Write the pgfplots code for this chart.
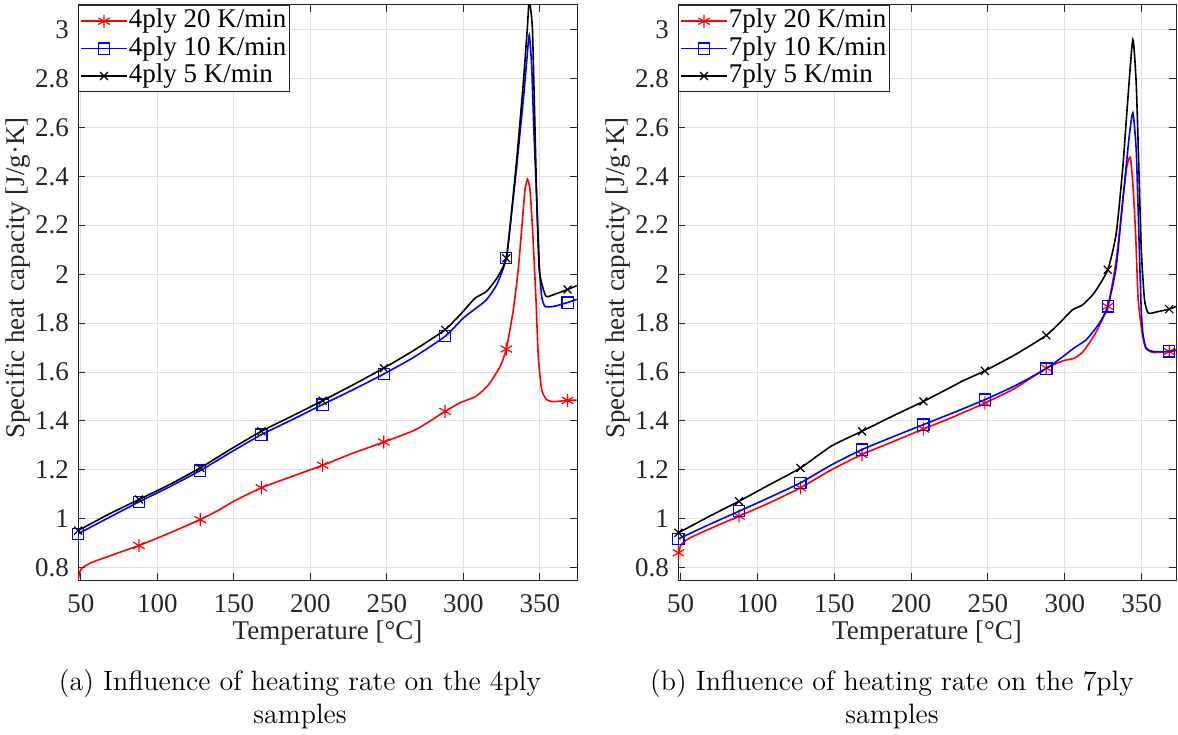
\documentclass[border=0pt]{standalone}
\usepackage{fontspec}
\usepackage{pgfplots}
\pgfplotsset{compat=1.18}
\newfontfamily\tnr{Liberation Serif}
\newcommand{\lblfont}{\tnr\fontsize{13.5}{14}\selectfont}
\pgfplotsset{myax/.style={
  scale only axis, width=249.5pt, height=287.5pt,
  xmin=48.2, xmax=374.2, ymin=0.75, ymax=3.1,
  xtick={50,100,150,200,250,300,350},
  ytick={0.8,1,1.2,1.4,1.6,1.8,2,2.2,2.4,2.6,2.8,3},
  grid=major, major grid style={black!12, line width=0.5pt},
  tick align=inside, major tick length=3.5pt,
  axis line style={black!85, line width=0.5pt},
  tick style={black!85, line width=0.5pt},
  ticklabel style={font=\lblfont, text=black!85},
  xticklabel style={yshift=-3.5pt},
  yticklabel style={xshift=-1pt},
  /pgf/number format/assume math mode=true,
  xlabel={Temperature [°C]}, ylabel={Specific heat capacity [J/g·K]},
  label style={font=\lblfont, text=black!85},
  xlabel style={at={(axis description cs:0.5,-0.092)}, anchor=center},
  ylabel style={at={(axis description cs:-0.12,0.525)}, anchor=center},
  clip mode=individual,
  legend style={at={(0,1)}, anchor=north west, draw=black!85, line width=0.5pt,
    font=\lblfont, inner xsep=1pt, inner ysep=1pt,
    nodes={inner sep=0.6pt, text height=9.5pt, text depth=3pt}},
  legend cell align=left,
  legend image code/.code={\draw[mark repeat=2,mark phase=2] plot coordinates {(0cm,0cm) (0.4cm,0cm) (0.8cm,0cm)};},
  ln/.style={line width=0.8pt, smooth, tension=0.35, no marks, forget plot},
  mk/.style={only marks, mark options={line width=0.6pt, solid}, forget plot},
  lg/.style={line width=0.8pt, mark options={line width=0.6pt, solid}},
  ast/.style={mark=asterisk, mark size=3.3pt},
  sq/.style={mark=square, mark size=2.8pt},
  xx/.style={mark=x, mark size=2.8pt},
}}
\begin{document}
\begin{tikzpicture}
\path[use as bounding box] (0,-77pt) rectangle (589pt,290pt);
% ---------------- left panel ----------------
\begin{axis}[myax, at={(39pt,0pt)}, anchor=south west]
\addlegendimage{lg, red, ast}
\addlegendentry{4ply 20 K/min}
\addlegendimage{lg, blue, sq}
\addlegendentry{4ply 10 K/min}
\addlegendimage{lg, black, xx}
\addlegendentry{4ply 5 K/min}
% 4ply 20 K/min
\addplot[ln, red] table[row sep=\\] {
x y\\
48.3 0.752\\ 49.5 0.785\\ 51 0.800\\ 56.5 0.820\\ 70 0.851\\ 88 0.891\\
108 0.942\\ 128 0.997\\ 140 1.035\\ 150 1.072\\ 168 1.127\\ 187 1.171\\
208 1.219\\ 228 1.269\\ 248 1.314\\ 269 1.365\\ 288 1.439\\ 298 1.475\\
308 1.500\\ 316 1.545\\ 324 1.623\\ 328 1.694\\ 332.6 1.854\\ 336 2.031\\
338.7 2.235\\ 340.2 2.344\\ 341.8 2.388\\ 343.5 2.344\\ 345.3 2.167\\
347.4 1.895\\ 348.9 1.664\\ 351.1 1.528\\ 354.4 1.487\\ 358.8 1.479\\
368 1.484\\ 374 1.485\\
};
\addplot[mk, red, ast] table[row sep=\\] {
x y\\
88 0.891\\ 128 0.997\\ 168 1.127\\ 208 1.219\\ 248 1.314\\ 288 1.439\\
328 1.694\\ 368 1.484\\
};
% 4ply 10 K/min
\addplot[ln, blue] table[row sep=\\] {
x y\\
48.3 0.939\\ 68 1.004\\ 88 1.069\\ 108 1.131\\ 128 1.197\\ 148 1.272\\
168 1.344\\ 188 1.405\\ 208 1.467\\ 228 1.528\\ 248 1.592\\ 268 1.662\\
288 1.746\\ 300 1.821\\ 307 1.855\\ 315 1.895\\ 322 1.960\\ 328 2.065\\
331.5 2.25\\ 334.8 2.44\\ 337 2.58\\ 339.1 2.711\\ 341.4 2.875\\ 343 2.977\\
344.6 2.848\\ 346.1 2.575\\ 347.9 2.303\\ 349.6 2.031\\ 351.1 1.909\\
353.3 1.868\\ 358.8 1.868\\ 368 1.884\\ 374 1.897\\
};
\addplot[mk, blue, sq] table[row sep=\\] {
x y\\
48.3 0.939\\ 88 1.069\\ 128 1.197\\ 168 1.344\\ 208 1.467\\ 248 1.592\\
288 1.746\\ 328 2.065\\ 368 1.884\\
};
% 4ply 5 K/min
\addplot[ln, black] table[row sep=\\] {
x y\\
48.3 0.952\\ 68 1.018\\ 88 1.079\\ 108 1.140\\ 128 1.208\\ 148 1.285\\
168 1.358\\ 188 1.420\\ 208 1.483\\ 228 1.548\\ 248 1.616\\ 268 1.690\\
288 1.773\\ 300 1.849\\ 307.6 1.902\\ 315 1.929\\ 322 1.985\\ 328 2.065\\
331.5 2.26\\ 334.8 2.467\\ 339.1 2.78\\ 341.8 3.01\\ 343 3.12\\ 345 3.01\\
346.3 2.711\\ 347.9 2.303\\ 349.4 2.03\\ 351.1 1.963\\ 354 1.909\\
358.8 1.916\\ 368 1.937\\ 374 1.953\\
};
\addplot[mk, black, xx] table[row sep=\\] {
x y\\
48.3 0.952\\ 88 1.079\\ 128 1.208\\ 168 1.358\\ 208 1.483\\ 248 1.616\\
288 1.773\\ 328 2.065\\ 368 1.937\\
};
\end{axis}
% ---------------- right panel ----------------
\begin{axis}[myax, at={(339pt,0pt)}, anchor=south west, width=249pt, xmin=48.3, xmax=372.4]
\addlegendimage{lg, red, ast}
\addlegendentry{7ply 20 K/min}
\addlegendimage{lg, blue, sq}
\addlegendentry{7ply 10 K/min}
\addlegendimage{lg, black, xx}
\addlegendentry{7ply 5 K/min}
% 7ply 20 K/min
\addplot[ln, red] table[row sep=\\] {
x y\\
48.6 0.861\\ 50 0.89\\ 52 0.905\\ 56 0.922\\ 70 0.962\\ 88 1.011\\
108 1.066\\ 128 1.127\\ 148 1.200\\ 168 1.263\\ 188 1.315\\ 208 1.367\\
228 1.418\\ 248 1.473\\ 268 1.535\\ 288 1.616\\ 299 1.646\\ 306 1.656\\
312 1.684\\ 320 1.759\\ 328 1.868\\ 333.5 2.058\\ 337.8 2.303\\ 340.4 2.439\\
342.6 2.478\\ 344.3 2.371\\ 346.1 2.167\\ 347.8 1.895\\ 350.4 1.759\\
352.6 1.698\\ 357.3 1.68\\ 368 1.684\\ 372.5 1.688\\
};
\addplot[mk, red, ast] table[row sep=\\] {
x y\\
48.6 0.861\\ 88 1.011\\ 128 1.127\\ 168 1.263\\ 208 1.367\\ 248 1.473\\
288 1.616\\ 328 1.868\\ 368 1.684\\
};
% 7ply 10 K/min
\addplot[ln, blue] table[row sep=\\] {
x y\\
48.6 0.918\\ 68 0.975\\ 88 1.031\\ 108 1.088\\ 128 1.147\\ 148 1.220\\
168 1.283\\ 188 1.335\\ 208 1.385\\ 228 1.435\\ 248 1.487\\ 268 1.545\\
288 1.614\\ 299 1.664\\ 306 1.698\\ 314 1.732\\ 322 1.795\\ 328 1.868\\
333.5 2.031\\ 337.8 2.303\\ 341.7 2.549\\ 344.3 2.66\\ 346.5 2.507\\
348.2 2.167\\ 349.8 1.85\\ 351 1.75\\ 353 1.698\\ 357.3 1.684\\
368 1.684\\ 372.5 1.69\\
};
\addplot[mk, blue, sq] table[row sep=\\] {
x y\\
48.6 0.918\\ 88 1.031\\ 128 1.147\\ 168 1.283\\ 208 1.385\\ 248 1.487\\
288 1.614\\ 328 1.868\\ 368 1.684\\
};
% 7ply 5 K/min
\addplot[ln, black] table[row sep=\\] {
x y\\
48.6 0.943\\ 68 1.008\\ 88 1.072\\ 108 1.140\\ 128 1.208\\ 148 1.297\\
168 1.358\\ 188 1.420\\ 208 1.480\\ 228 1.545\\ 233 1.562\\ 248 1.605\\
268 1.672\\ 288 1.750\\ 298.7 1.814\\ 305 1.854\\ 311.7 1.875\\ 319 1.922\\
328 2.018\\ 333.5 2.167\\ 337.8 2.439\\ 341 2.711\\ 344.3 2.959\\
346.5 2.78\\ 348.2 2.439\\ 349.8 2.10\\ 351.9 1.895\\ 354.4 1.841\\
360 1.846\\ 368 1.857\\ 372.5 1.868\\
};
\addplot[mk, black, xx] table[row sep=\\] {
x y\\
48.6 0.943\\ 88 1.072\\ 128 1.208\\ 168 1.358\\ 208 1.480\\ 248 1.605\\
288 1.750\\ 328 2.018\\ 368 1.857\\
};
\end{axis}
\node[font=\fontsize{14}{16.5}\selectfont, align=center] at (150pt,-59.5pt)
  {(a) Influence of heating rate on the 4ply\\samples};
\node[font=\fontsize{14}{16.5}\selectfont, align=center] at (446pt,-59.5pt)
  {(b) Influence of heating rate on the 7ply\\samples};
\end{tikzpicture}
\end{document}
